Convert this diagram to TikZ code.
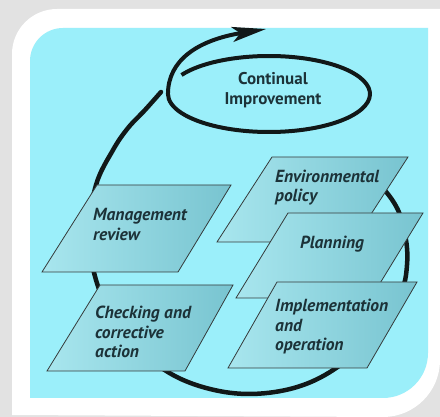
\documentclass[tikz,border=0pt]{standalone}
\usepackage{fontspec}
\setmainfont{PT Sans}
\usetikzlibrary{arrows.meta}
\definecolor{bgcyan}{RGB}{155,239,250}
\definecolor{shadegray}{RGB}{226,226,226}
\definecolor{boxL}{RGB}{168,230,238}
\definecolor{boxR}{RGB}{120,196,208}
\definecolor{txt}{RGB}{28,50,56}
\definecolor{ink}{RGB}{17,24,24}
\begin{document}
\begin{tikzpicture}[x=1pt,y=-1pt,
  para/.style={draw=ink!85, line width=0.8pt, left color=boxL, right color=boxR},
  lbl/.style={font=\bfseries\itshape\fontsize{17.5}{19.5}\selectfont, text=txt, align=left, anchor=west, inner sep=0pt},
  loopline/.style={draw=ink, line width=4.5pt},
]
\useasboundingbox (0,0) rectangle (440,417);
% background, frame and panel
\fill[shadegray] (0,0) rectangle (440,417);
\fill[white] (12,415) -- (12,54) arc[start angle=180, end angle=270, radius=45] -- (440,9) -- (440,360) arc[start angle=0, end angle=90, radius=57] -- cycle;
\fill[bgcyan] (30,398) -- (30,61) arc[start angle=180, end angle=270, radius=33] -- (428,28) -- (428,353) arc[start angle=0, end angle=90, radius=45] -- cycle;
% big loop (behind the boxes)
\draw[loopline, line cap=round] plot[smooth, tension=0.6] coordinates {(355,165) (380,185) (398,210) (406,240) (407,265) (402,290) (384,322) (359,350) (325,375) (290,389) (249,394) (210,389) (173,375) (139,350) (114,320) (96,280) (89,234) (96,185) (113,150) (128,128) (145,110) (161,92)};
% boxes
\shade[para] (97,185) -- (231,185) -- (178,272) -- (42,272) -- cycle;
\shade[para] (100,285) -- (233,285) -- (185,371) -- (47,371) -- cycle;
\shade[para] (272,157) -- (408,157) -- (353,242) -- (217,242) -- cycle;
\shade[para] (288,213) -- (423,213) -- (371,298) -- (236,298) -- cycle;
\shade[para] (277,282) -- (417,282) -- (367,368) -- (228,368) -- cycle;
% continual improvement loop with arrow
\draw[loopline, line width=4pt, -{Stealth[length=34pt,width=15pt,inset=8pt]}] (181.5,75) arc[start angle=210, end angle=540, x radius=101, y radius=38] .. controls (168,60) and (198,40) .. (266,29);
% labels
\node[font=\bfseries\fontsize{17}{19.5}\selectfont, text=txt, align=center, inner sep=0pt] (ci) at (273,90) {Continual\\Improvement};
\node[lbl] (mgmt) at (93,224.5) {Management\\review};
\node[lbl] (env) at (275,187.5) {Environmental\\policy};
\node[lbl] (plan) at (300,244) {Planning};
\node[lbl] (check) at (95,332) {Checking and\\corrective\\action};
\node[lbl] (impl) at (275,327) {Implementation\\and\\operation};
\end{tikzpicture}
\end{document}
